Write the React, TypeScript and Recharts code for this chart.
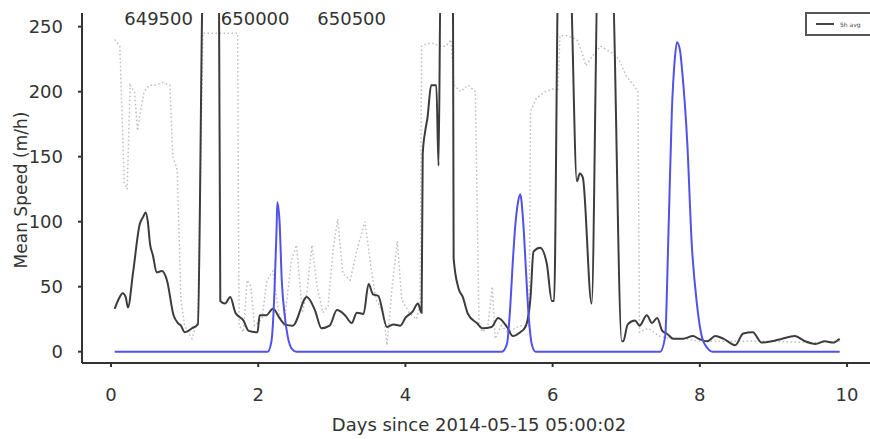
import React from 'react';
import { LineChart, Line, XAxis, YAxis } from 'recharts';

// smoothed mean speed (black solid)
const smoothDays = [
  0.05, 0.1, 0.16, 0.2, 0.23, 0.3, 0.39, 0.44, 0.47, 0.5, 0.53, 0.57, 0.62, 0.69, 0.76, 0.85, 0.91, 0.95, 1.0, 1.05, 1.1, 1.18,
  1.255, 1.465, 1.485, 1.55, 1.62, 1.69, 1.8, 1.87, 1.99, 2.02, 2.11, 2.2, 2.3, 2.36, 2.47, 2.66, 2.77, 2.86, 2.97, 3.07, 3.18,
  3.27, 3.34, 3.43, 3.5, 3.56, 3.63, 3.75, 3.84, 3.93, 4.0, 4.1, 4.17, 4.22, 4.235, 4.27, 4.3, 4.35, 4.42, 4.45, 4.48, 4.645,
  4.655, 4.72, 4.78, 4.85, 4.97, 5.05, 5.17, 5.26, 5.38, 5.46, 5.56, 5.63, 5.7, 5.74, 5.83, 5.92, 5.99, 6.02, 6.08, 6.23, 6.33,
  6.37, 6.41, 6.53, 6.62, 6.8, 6.94, 6.96, 7.02, 7.12, 7.18, 7.28, 7.35, 7.42, 7.49, 7.55, 7.64, 7.77, 7.91, 7.98, 8.1, 8.21,
  8.32, 8.48, 8.59, 8.72, 8.84, 8.98, 9.12, 9.29, 9.43, 9.57, 9.7, 9.81, 9.9,
];
const smoothSpeed = [
  33, 40, 45, 42, 34, 61, 98, 104, 107, 100, 83, 74, 61, 62, 55, 28, 22, 20, 15, 16, 18, 21,
  300, 300, 39, 37, 42, 30, 24, 16, 15, 28, 28, 33, 25, 21, 20, 42, 32, 18, 20, 32, 28,
  22, 30, 29, 52, 44, 43, 19, 21, 20, 26, 31, 37, 30, 152, 170, 180, 205, 205, 143, 300, 300,
  72, 49, 42, 29, 22, 18, 19, 26, 19, 12, 15, 19, 42, 77, 80, 68, 39, 39, 300, 300, 131,
  137, 134, 37, 300, 300, 8, 8, 21, 24, 20, 28, 22, 26, 16, 14, 10, 10, 12, 10, 8, 12,
  10, 5, 14, 15, 7, 8, 10, 12, 8, 6, 8, 7, 10,
];

// raw speed (grey dotted)
const rawDays = [
  0.05, 0.12, 0.18, 0.22, 0.26, 0.32, 0.36, 0.4, 0.45, 0.52, 0.6, 0.7, 0.8, 0.84, 0.9, 0.95, 1.0, 1.1, 1.18, 1.25, 1.45, 1.6,
  1.72, 1.74, 1.8, 1.85, 1.9, 1.95, 2.05, 2.12, 2.2, 2.28, 2.35, 2.45, 2.52, 2.6, 2.66, 2.73, 2.8, 2.88, 2.95, 3.02, 3.08,
  3.15, 3.25, 3.35, 3.45, 3.52, 3.6, 3.7, 3.75, 3.82, 3.89, 3.95, 4.05, 4.15, 4.2, 4.22, 4.3, 4.4, 4.45, 4.55, 4.62, 4.66,
  4.75, 4.85, 4.95, 5.0, 5.05, 5.12, 5.18, 5.22, 5.3, 5.4, 5.55, 5.68, 5.7, 5.78, 5.9, 6.0, 6.07, 6.1, 6.2, 6.33, 6.4, 6.45,
  6.55, 6.65, 6.8, 6.9, 7.0, 7.1, 7.16, 7.18, 7.3, 7.45, 7.6, 7.8, 8.0, 8.5, 9.0, 9.5, 9.9,
];
const rawSpeed = [
  240, 235, 130, 125, 205, 200, 170, 185, 200, 205, 205, 207, 205, 150, 140, 40, 20, 10, 25, 245, 245, 245,
  245, 20, 15, 55, 50, 20, 25, 55, 62, 30, 20, 70, 82, 30, 45, 82, 50, 30, 35, 80, 102,
  60, 55, 80, 100, 70, 40, 30, 5, 50, 85, 40, 30, 25, 35, 235, 237, 237, 235, 235, 240, 205,
  200, 205, 200, 20, 15, 20, 50, 10, 20, 15, 20, 20, 185, 195, 200, 202, 200, 243, 243, 240, 230, 220,
  228, 235, 230, 225, 212, 205, 200, 15, 18, 12, 10, 10, 8, 8, 8, 7, 8,
];

// kernel density (blue)
const kernelDays = [
  0.05, 2.13, 2.18, 2.22, 2.25, 2.26, 2.29, 2.32, 2.36, 2.4, 2.46, 2.52, 5.31, 5.38, 5.42, 5.46, 5.49, 5.53, 5.56, 5.6, 5.64,
  5.67, 5.72, 5.77, 7.46, 7.53, 7.57, 7.62, 7.66, 7.69, 7.73, 7.76, 7.83, 7.89, 7.96, 8.03, 8.1, 8.17, 9.9,
];
const kernelValue = [
  0, 0, 8, 45, 95, 115, 100, 55, 28, 12, 2, 0, 0, 6, 31, 70, 95, 115, 121, 100, 60,
  31, 5, 0, 0, 12, 83, 185, 225, 238, 232, 216, 160, 83, 37, 11, 3, 0, 0,
];

const yTicks = [0, 50, 100, 150, 200, 250];
const xTicks = [0, 2, 4, 6, 8, 10];
const topTicks = [649500, 650000, 650500];

const smoothData = smoothDays.map((d, i) => ({ day: d, speed: smoothSpeed[i] }));
const rawData = rawDays.map((d, i) => ({ day: d, speed: rawSpeed[i] }));
const kernelData = kernelDays.map((d, i) => ({ day: d, speed: kernelValue[i] }));

const FONT = 'DejaVu Sans';
const tickStyle = { fill: '#333', fontSize: 18, fontFamily: FONT };

export default function App() {
  return (
    <div style={{ position: 'absolute', left: 0, top: 0, width: 870, height: 439, background: '#fff' }}>
      <LineChart width={870} height={439} margin={{ top: 12, right: 0, bottom: 0, left: 0 }}>
        <XAxis
          dataKey="day"
          type="number"
          domain={[-0.394, 10.312]}
          allowDataOverflow
          ticks={xTicks}
          height={76}
          tickSize={4}
          tickMargin={21}
          tick={tickStyle}
          stroke="#333"
          strokeWidth={2}
          label={{
            content: () => (
              <text x={479} y={431} textAnchor="middle" fill="#333" fontSize={18} fontFamily={FONT}>
                Days since 2014-05-15 05:00:02
              </text>
            ),
          }}
        />
        <XAxis
          xAxisId="top"
          orientation="top"
          dataKey="day"
          type="number"
          domain={[649103, 653185]}
          allowDataOverflow
          ticks={topTicks}
          height={1}
          axisLine={false}
          tickLine={false}
          tick={(props: any) => (
            <text x={props.x} y={25} textAnchor="middle" fill="#333" fontSize={18} fontFamily={FONT}>
              {props.payload.value}
            </text>
          )}
        />
        <YAxis
          type="number"
          domain={[-8.7, 260.5]}
          allowDataOverflow
          ticks={yTicks}
          width={82}
          tickSize={4}
          tickMargin={15}
          tick={tickStyle}
          stroke="#333"
          strokeWidth={2}
          label={{
            content: () => (
              <text
                x={27}
                y={190}
                transform="rotate(-90, 27, 190)"
                textAnchor="middle"
                fill="#333"
                fontSize={17}
                fontFamily={FONT}
              >
                Mean Speed (m/h)
              </text>
            ),
          }}
        />
        <Line
          data={rawData}
          dataKey="speed"
          stroke="#bdbdbd"
          strokeWidth={1.5}
          strokeDasharray="1.5 2.5"
          dot={false}
          isAnimationActive={false}
        />
        <Line
          data={smoothData}
          dataKey="speed"
          type="monotone"
          stroke="#3c3c3c"
          strokeWidth={2}
          dot={false}
          isAnimationActive={false}
        />
        <Line
          data={kernelData}
          dataKey="speed"
          type="monotone"
          stroke="#5252e8"
          strokeWidth={2}
          dot={false}
          isAnimationActive={false}
        />
        {/* empty series so the top scale gets drawn */}
        <Line xAxisId="top" data={[]} dataKey="speed" stroke="none" dot={false} isAnimationActive={false} />
      </LineChart>
      <div
        style={{
          position: 'absolute',
          left: 805,
          top: 12,
          width: 65,
          height: 24,
          border: '2px solid #555',
          borderRight: 'none',
          boxSizing: 'border-box',
          display: 'flex',
          alignItems: 'center',
          fontFamily: FONT,
          fontSize: 6,
          color: '#444',
          whiteSpace: 'nowrap',
        }}
      >
        <span style={{ display: 'inline-block', width: 18, height: 2, background: '#444', margin: '0 6px 0 9px' }} />
        <span>5h avg</span>
      </div>
    </div>
  );
}
